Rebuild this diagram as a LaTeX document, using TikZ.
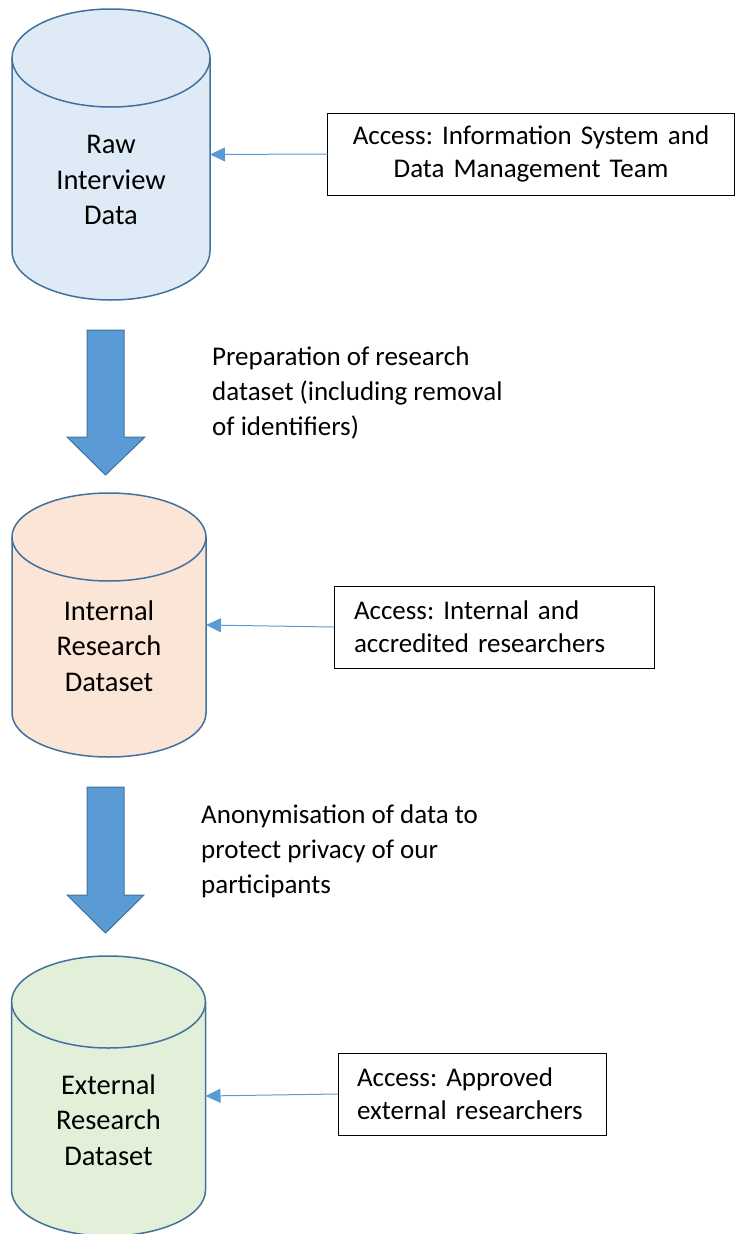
\documentclass[tikz,border=0pt]{standalone}
\usepackage{fontspec}
\setmainfont{Carlito}
\frenchspacing
\usepackage{xcolor}
\usepackage{tikz}
\usetikzlibrary{positioning,arrows.meta,calc}
\definecolor{ink}{RGB}{0,0,0}
\definecolor{cylframe}{RGB}{65,113,156}
\definecolor{arrowblue}{RGB}{91,155,213}
\definecolor{nodeblue}{RGB}{222,235,247}
\definecolor{nodepeach}{RGB}{251,229,214}
\definecolor{nodegreen}{RGB}{226,240,217}
\tikzset{
  storeline/.style={draw=cylframe, line width=1.5pt, line join=round},
  storetext/.style={align=center, inner sep=0pt, text=ink,
    font=\fontsize{28.5}{35.5}\selectfont},
  access/.style={draw=ink, line width=1pt, inner ysep=0pt, minimum height=82pt,
    outer sep=0pt, text=ink, font=\fontsize{27}{33}\selectfont},
  note/.style={align=left, anchor=north west, inner sep=0pt, text=ink,
    font=\fontsize{27}{35}\selectfont},
  feed/.style={-{Triangle[length=15pt,width=14pt]}, line width=1pt, draw=arrowblue},
  block/.style={fill=arrowblue, draw=cylframe, line width=1pt, line join=miter},
}
\begin{document}
\begin{tikzpicture}[x=1pt,y=-1pt]
  \useasboundingbox (0,0) rectangle (735,1234);
  % data stores: name/centre x/half width/top/bottom/ellipse radius/fill
  \foreach \nm/\cx/\rx/\yt/\yb/\ry/\col in {raw/111/99/58/251/49/nodeblue,
      internal/109/97/537/713/44/nodepeach, external/108.5/97/1002/1190/46/nodegreen}{
    \filldraw[storeline, fill=\col] ({\cx-\rx},\yt) -- ({\cx-\rx},\yb)
      arc[start angle=180, end angle=0, x radius=\rx, y radius=\ry]
      -- ({\cx+\rx},\yt)
      arc[start angle=0, end angle=-180, x radius=\rx, y radius=\ry] -- cycle;
    \draw[storeline] ({\cx-\rx},\yt)
      arc[start angle=180, end angle=0, x radius=\rx, y radius=\ry];
    \coordinate (\nm) at ({\cx+\rx},{(\yt+\yb)/2});
  }
  \node[storetext] (rawtext) at (111,180) {Raw\\Interview\\Data};
  \node[storetext] (internaltext) at (109,646) {Internal\\Research\\Dataset};
  \node[storetext] (externaltext) at (108.5,1120) {External\\Research\\Dataset};
  % who may access
  \node[access, inner xsep=20pt, text width=367pt, align=center] (isdm) at (531,154)
       {Access: Information System and\\Data Management Team};
  \node[access, inner xsep=20pt, text width=280pt, align=left] (accred) at (494,627)
       {Access: Internal and\\accredited researchers};
  \node[access, inner xsep=19pt, text width=230pt, align=left] (approved) at (472,1094)
       {Access: Approved\\external researchers};
  \draw[feed] (isdm.west) -- (raw);
  \draw[feed] (accred.west) -- (internal);
  \draw[feed] (approved.west) -- (external);
  % processing steps
  \draw[block] (87,330) -- (124,330) -- (124,437) -- (145,437) -- (105.5,475)
       -- (67,437) -- (87,437) -- cycle;
  \draw[block] (87,787) -- (124,787) -- (124,895) -- (144,895) -- (105.5,933)
       -- (67,895) -- (87,895) -- cycle;
  \node[note] (prep) at (212,347)
       {Preparation of research\\dataset (including removal\\of identifiers)};
  \node[note] (anon) at (201,805)
       {Anonymisation of data to\\protect privacy of our\\participants};
\end{tikzpicture}
\end{document}
